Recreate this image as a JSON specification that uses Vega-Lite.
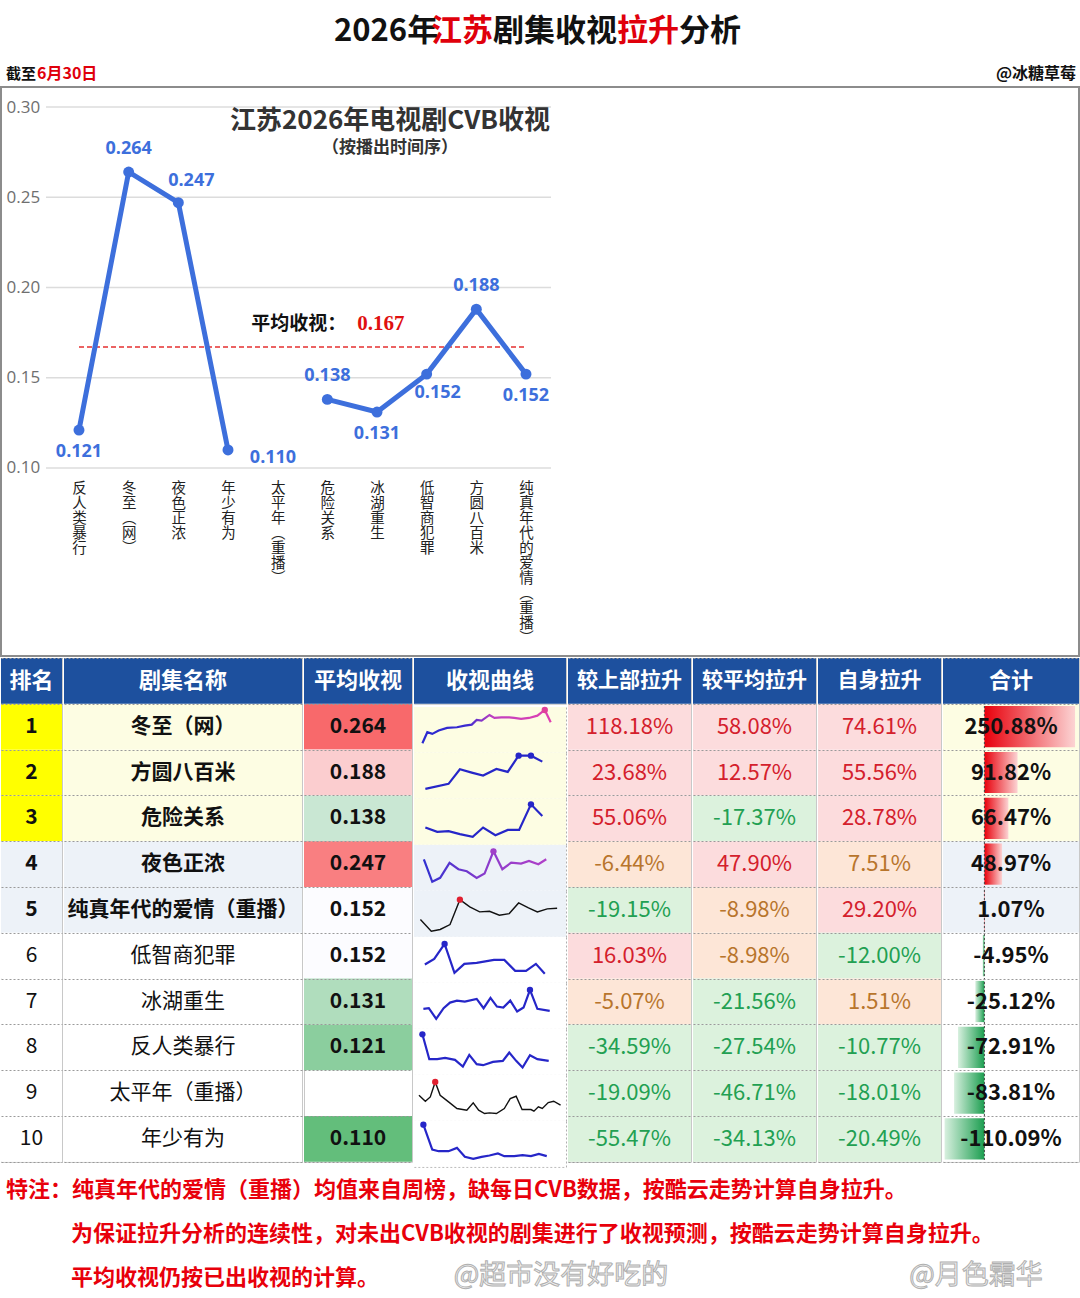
{
  "$schema": "https://vega.github.io/schema/vega-lite/v6.json",
  "padding": 0,
  "background": "white",
  "spacing": 0,
  "config": {
    "font": "Noto Sans CJK SC",
    "view": {"stroke": "#c8c8c8", "strokeWidth": 1},
    "locale": {"number": {"decimal": ".", "thousands": ",", "grouping": [3], "currency": ["", ""], "minus": "-"}},
    "concat": {"spacing": 0},
    "facet": {"spacing": 0}
  },
  "resolve": {"scale": {"x": "independent", "y": "independent", "fill": "independent", "color": "independent"}},
  "datasets": {
    "table": [
      {"rank": 1, "name": "冬至（网）", "air": 2, "avg": 0.264, "up": 1.1818, "vsavg": 0.5808, "self": 0.7461, "total": 2.5088},
      {"rank": 2, "name": "方圆八百米", "air": 9, "avg": 0.188, "up": 0.2368, "vsavg": 0.1257, "self": 0.5556, "total": 0.9182},
      {"rank": 3, "name": "危险关系", "air": 6, "avg": 0.138, "up": 0.5506, "vsavg": -0.1737, "self": 0.2878, "total": 0.6647},
      {"rank": 4, "name": "夜色正浓", "air": 3, "avg": 0.247, "up": -0.0644, "vsavg": 0.4790, "self": 0.0751, "total": 0.4897},
      {"rank": 5, "name": "纯真年代的爱情（重播）", "air": 10, "avg": 0.152, "up": -0.1915, "vsavg": -0.0898, "self": 0.2920, "total": 0.0107},
      {"rank": 6, "name": "低智商犯罪", "air": 8, "avg": 0.152, "up": 0.1603, "vsavg": -0.0898, "self": -0.1200, "total": -0.0495},
      {"rank": 7, "name": "冰湖重生", "air": 7, "avg": 0.131, "up": -0.0507, "vsavg": -0.2156, "self": 0.0151, "total": -0.2512},
      {"rank": 8, "name": "反人类暴行", "air": 1, "avg": 0.121, "up": -0.3459, "vsavg": -0.2754, "self": -0.1077, "total": -0.7291},
      {"rank": 9, "name": "太平年（重播）", "air": 5, "avg": null, "up": -0.1909, "vsavg": -0.4671, "self": -0.1801, "total": -0.8381},
      {"rank": 10, "name": "年少有为", "air": 4, "avg": 0.110, "up": -0.5547, "vsavg": -0.3413, "self": -0.2049, "total": -1.1009}
    ],
    "notes": [
      {"line": 1, "text": "特注：纯真年代的爱情（重播）均值来自周榜，缺每日CVB数据，按酷云走势计算自身拉升。"},
      {"line": 2, "text": "为保证拉升分析的连续性，对未出CVB收视的剧集进行了收视预测，按酷云走势计算自身拉升。"},
      {"line": 3, "text": "平均收视仍按已出收视的计算。"}
    ],
    "spark": [
      {"rank":1,"t":1.7,"v":32},{"rank":1,"t":2.7,"v":65},{"rank":1,"t":3.7,"v":60},{"rank":1,"t":5.0,"v":70},{"rank":1,"t":6.7,"v":78},{"rank":1,"t":8.7,"v":80},{"rank":1,"t":10.3,"v":85},{"rank":1,"t":11.7,"v":88},{"rank":1,"t":12.7,"v":102},{"rank":1,"t":13.7,"v":100},{"rank":1,"t":15.3,"v":117},{"rank":1,"t":16.3,"v":108},{"rank":1,"t":17.7,"v":110},{"rank":1,"t":19.3,"v":110},{"rank":1,"t":20.3,"v":108},{"rank":1,"t":21.7,"v":105},{"rank":1,"t":23.3,"v":108},{"rank":1,"t":25.0,"v":115},{"rank":1,"t":26.5,"v":132},{"rank":1,"t":27.7,"v":95},
      {"rank":2,"t":2.3,"v":33},{"rank":2,"t":7.0,"v":48},{"rank":2,"t":9.3,"v":92},{"rank":2,"t":11.7,"v":82},{"rank":2,"t":14.0,"v":73},{"rank":2,"t":16.7,"v":93},{"rank":2,"t":19.0,"v":84},{"rank":2,"t":21.2,"v":133},{"rank":2,"t":23.7,"v":133},{"rank":2,"t":26.0,"v":115},
      {"rank":3,"t":2.3,"v":55},{"rank":3,"t":4.7,"v":42},{"rank":3,"t":7.0,"v":44},{"rank":3,"t":9.3,"v":35},{"rank":3,"t":11.9,"v":27},{"rank":3,"t":14.0,"v":55},{"rank":3,"t":16.5,"v":32},{"rank":3,"t":19.0,"v":48},{"rank":3,"t":21.3,"v":48},{"rank":3,"t":23.7,"v":125},{"rank":3,"t":26.0,"v":90},
      {"rank":4,"t":2.0,"v":98},{"rank":4,"t":3.7,"v":30},{"rank":4,"t":5.3,"v":42},{"rank":4,"t":7.2,"v":87},{"rank":4,"t":9.0,"v":68},{"rank":4,"t":10.7,"v":62},{"rank":4,"t":12.7,"v":42},{"rank":4,"t":14.3,"v":55},{"rank":4,"t":16.1,"v":122},{"rank":4,"t":17.9,"v":68},{"rank":4,"t":19.7,"v":88},{"rank":4,"t":21.7,"v":85},{"rank":4,"t":23.3,"v":93},{"rank":4,"t":25.2,"v":83},{"rank":4,"t":26.8,"v":98},
      {"rank":5,"t":1.3,"v":55},{"rank":5,"t":3.5,"v":20},{"rank":5,"t":5.3,"v":25},{"rank":5,"t":7.3,"v":40},{"rank":5,"t":9.3,"v":115},{"rank":5,"t":11.3,"v":93},{"rank":5,"t":13.3,"v":78},{"rank":5,"t":15.3,"v":80},{"rank":5,"t":17.3,"v":68},{"rank":5,"t":19.3,"v":73},{"rank":5,"t":21.2,"v":105},{"rank":5,"t":23.2,"v":90},{"rank":5,"t":25.0,"v":78},{"rank":5,"t":27.0,"v":87},{"rank":5,"t":29.0,"v":89},
      {"rank":6,"t":2.2,"v":58},{"rank":6,"t":4.1,"v":75},{"rank":6,"t":6.2,"v":120},{"rank":6,"t":8.2,"v":33},{"rank":6,"t":10.2,"v":60},{"rank":6,"t":12.7,"v":63},{"rank":6,"t":16.2,"v":72},{"rank":6,"t":18.3,"v":72},{"rank":6,"t":20.5,"v":39},{"rank":6,"t":22.7,"v":39},{"rank":6,"t":24.7,"v":60},{"rank":6,"t":26.5,"v":30},
      {"rank":7,"t":1.9,"v":63},{"rank":7,"t":3.0,"v":65},{"rank":7,"t":4.5,"v":33},{"rank":7,"t":6.0,"v":65},{"rank":7,"t":7.3,"v":82},{"rank":7,"t":8.7,"v":88},{"rank":7,"t":10.3,"v":85},{"rank":7,"t":12.7,"v":93},{"rank":7,"t":14.1,"v":65},{"rank":7,"t":15.5,"v":96},{"rank":7,"t":16.8,"v":70},{"rank":7,"t":18.1,"v":67},{"rank":7,"t":19.5,"v":88},{"rank":7,"t":20.9,"v":55},{"rank":7,"t":22.2,"v":67},{"rank":7,"t":23.5,"v":120},{"rank":7,"t":25.0,"v":63},{"rank":7,"t":27.5,"v":57},
      {"rank":8,"t":1.7,"v":125},{"rank":8,"t":3.1,"v":50},{"rank":8,"t":4.7,"v":50},{"rank":8,"t":6.3,"v":54},{"rank":8,"t":8.3,"v":48},{"rank":8,"t":9.9,"v":28},{"rank":8,"t":11.2,"v":63},{"rank":8,"t":12.7,"v":35},{"rank":8,"t":14.0,"v":32},{"rank":8,"t":16.0,"v":42},{"rank":8,"t":18.0,"v":45},{"rank":8,"t":19.3,"v":70},{"rank":8,"t":20.7,"v":45},{"rank":8,"t":22.0,"v":25},{"rank":8,"t":23.5,"v":62},{"rank":8,"t":25.0,"v":50},{"rank":8,"t":27.3,"v":45},
      {"rank":9,"t":1.0,"v":80},{"rank":9,"t":2.3,"v":62},{"rank":9,"t":3.3,"v":75},{"rank":9,"t":4.3,"v":120},{"rank":9,"t":5.3,"v":80},{"rank":9,"t":7.0,"v":60},{"rank":9,"t":8.7,"v":40},{"rank":9,"t":10.7,"v":35},{"rank":9,"t":12.0,"v":57},{"rank":9,"t":13.1,"v":35},{"rank":9,"t":14.3,"v":25},{"rank":9,"t":15.3,"v":27},{"rank":9,"t":16.7,"v":25},{"rank":9,"t":18.3,"v":40},{"rank":9,"t":19.5,"v":70},{"rank":9,"t":20.7,"v":77},{"rank":9,"t":21.9,"v":37},{"rank":9,"t":23.7,"v":37},{"rank":9,"t":24.3,"v":32},{"rank":9,"t":25.2,"v":45},{"rank":9,"t":26.0,"v":40},{"rank":9,"t":27.2,"v":58},{"rank":9,"t":28.3,"v":62},{"rank":9,"t":29.7,"v":50},
      {"rank":10,"t":1.9,"v":130},{"rank":10,"t":3.7,"v":55},{"rank":10,"t":5.0,"v":50},{"rank":10,"t":7.0,"v":50},{"rank":10,"t":8.7,"v":60},{"rank":10,"t":10.3,"v":33},{"rank":10,"t":12.0,"v":27},{"rank":10,"t":13.7,"v":33},{"rank":10,"t":15.3,"v":37},{"rank":10,"t":17.0,"v":43},{"rank":10,"t":18.3,"v":35},{"rank":10,"t":20.3,"v":35},{"rank":10,"t":22.0,"v":38},{"rank":10,"t":23.7,"v":35},{"rank":10,"t":25.3,"v":42},{"rank":10,"t":26.9,"v":35}
    ]
  },
  "vconcat": [
    {
      "width": 1080, "height": 86, "view": {"stroke": null},
      "data": {"values": [{}]},
      "layer": [
        {"mark": {"type": "text", "text": "2026年", "x": 333, "y": 32, "align": "left", "baseline": "middle", "fontSize": 31, "fontWeight": "bold", "color": "#111"}, "encoding": {}},
        {"mark": {"type": "text", "text": "江苏", "x": 430, "y": 32, "align": "left", "baseline": "middle", "fontSize": 31, "fontWeight": "bold", "color": "#e0000b"}, "encoding": {}},
        {"mark": {"type": "text", "text": "剧集收视", "x": 492, "y": 32, "align": "left", "baseline": "middle", "fontSize": 31, "fontWeight": "bold", "color": "#111"}, "encoding": {}},
        {"mark": {"type": "text", "text": "拉升", "x": 616, "y": 32, "align": "left", "baseline": "middle", "fontSize": 31, "fontWeight": "bold", "color": "#e0000b"}, "encoding": {}},
        {"mark": {"type": "text", "text": "分析", "x": 678, "y": 32, "align": "left", "baseline": "middle", "fontSize": 31, "fontWeight": "bold", "color": "#111"}, "encoding": {}},
        {"mark": {"type": "text", "text": "截至", "x": 5, "y": 74, "align": "left", "baseline": "middle", "fontSize": 15, "fontWeight": "bold", "color": "#111"}, "encoding": {}},
        {"mark": {"type": "text", "text": "6月30日", "x": 36, "y": 74, "align": "left", "baseline": "middle", "fontSize": 16, "fontWeight": "bold", "color": "#e0000b"}, "encoding": {}},
        {"mark": {"type": "text", "text": "@冰糖草莓", "x": 1075, "y": 74, "align": "right", "baseline": "middle", "fontSize": 16, "fontWeight": "bold", "color": "#111"}, "encoding": {}}
      ]
    },
    {
      "width": 1078, "height": 569,
      "view": {"stroke": "#8c8c8c", "strokeWidth": 2},
      "data": {"name": "table"},
      "layer": [
        {
          "data": {"values": [{"t": 0.10}, {"t": 0.15}, {"t": 0.20}, {"t": 0.25}, {"t": 0.30}]},
          "mark": {"type": "rule", "color": "#dcdcdc", "strokeWidth": 1.5, "xOffset": -33, "x2Offset": 25},
          "encoding": {
            "x": {"datum": "反人类暴行"},
            "x2": {"datum": "纯真年代的爱情（重播）"},
            "y": {"field": "t", "type": "quantitative", "scale": {"domain": [-0.0042, 0.3111], "nice": false, "zero": false},
              "axis": {"values": [0.1, 0.15, 0.2, 0.25, 0.3], "format": ".2f", "labelAlign": "left", "labelPadding": -5, "ticks": false, "domain": false, "grid": false, "title": null, "labelFontSize": 17, "labelColor": "#6f6f6f", "labelFont": "Open Sans", "labelBaseline": "middle"}}
          }
        },
        {
          "mark": {"type": "rule", "color": "#e53030", "strokeDash": [5, 3], "strokeWidth": 1.6},
          "encoding": {
            "x": {"datum": "反人类暴行"},
            "x2": {"datum": "纯真年代的爱情（重播）"},
            "y": {"aggregate": "mean", "field": "avg", "type": "quantitative"}
          }
        },
        {
          "mark": {"type": "line", "color": "#3d6fdc", "strokeWidth": 5, "invalid": "break-paths-show-domains"},
          "encoding": {
            "x": {"field": "name", "type": "nominal",
              "scale": {"type": "point", "domain": ["反人类暴行", "冬至（网）", "夜色正浓", "年少有为", "太平年（重播）", "危险关系", "冰湖重生", "低智商犯罪", "方圆八百米", "纯真年代的爱情（重播）"], "range": [78, 525], "padding": 0, "round": false},
              "axis": {"orient": "bottom", "offset": -177, "title": null, "ticks": false, "domain": false, "grid": false, "labelAngle": 0, "labelAlign": "center", "labelBaseline": "top", "labelPadding": 2, "labelFontSize": 14.5, "labelLineHeight": 15, "labelColor": "#222222", "labelOverlap": false, "labelLimit": 0, "labelExpr": "split(replace(replace(datum.label, '（', '︵'), '）', '︶'), '')"}},
            "y": {"field": "avg", "type": "quantitative"},
            "order": {"field": "air", "type": "quantitative"}
          }
        },
        {
          "mark": {"type": "point", "filled": true, "size": 120, "color": "#3d6fdc", "opacity": 1},
          "encoding": {"x": {"field": "name", "type": "nominal"}, "y": {"field": "avg", "type": "quantitative"}}
        },
        {
          "transform": [{"filter": {"field": "name", "oneOf": ["冬至（网）", "危险关系", "方圆八百米"]}}],
          "mark": {"type": "text", "dy": -23, "fontSize": 18, "fontWeight": "bold", "color": "#3d6fdc", "font": "Open Sans"},
          "encoding": {"x": {"field": "name", "type": "nominal"}, "y": {"field": "avg", "type": "quantitative"}, "text": {"field": "avg", "type": "quantitative", "format": ".3f"}}
        },
        {
          "transform": [{"filter": {"field": "name", "oneOf": ["反人类暴行", "冰湖重生", "纯真年代的爱情（重播）"]}}],
          "mark": {"type": "text", "dy": 22, "fontSize": 18, "fontWeight": "bold", "color": "#3d6fdc", "font": "Open Sans"},
          "encoding": {"x": {"field": "name", "type": "nominal"}, "y": {"field": "avg", "type": "quantitative"}, "text": {"field": "avg", "type": "quantitative", "format": ".3f"}}
        },
        {
          "transform": [{"filter": {"field": "name", "equal": "夜色正浓"}}],
          "mark": {"type": "text", "dx": 13, "dy": -22, "fontSize": 18, "fontWeight": "bold", "color": "#3d6fdc", "font": "Open Sans"},
          "encoding": {"x": {"field": "name", "type": "nominal"}, "y": {"field": "avg", "type": "quantitative"}, "text": {"field": "avg", "type": "quantitative", "format": ".3f"}}
        },
        {
          "transform": [{"filter": {"field": "name", "equal": "低智商犯罪"}}],
          "mark": {"type": "text", "dx": 11, "dy": 19, "fontSize": 18, "fontWeight": "bold", "color": "#3d6fdc", "font": "Open Sans"},
          "encoding": {"x": {"field": "name", "type": "nominal"}, "y": {"field": "avg", "type": "quantitative"}, "text": {"field": "avg", "type": "quantitative", "format": ".3f"}}
        },
        {
          "transform": [{"filter": {"field": "name", "equal": "年少有为"}}],
          "mark": {"type": "text", "dx": 45, "dy": 8, "fontSize": 18, "fontWeight": "bold", "color": "#3d6fdc", "font": "Open Sans"},
          "encoding": {"x": {"field": "name", "type": "nominal"}, "y": {"field": "avg", "type": "quantitative"}, "text": {"field": "avg", "type": "quantitative", "format": ".3f"}}
        },
        {
          "data": {"values": [{}]},
          "mark": {"type": "text", "text": "江苏2026年电视剧CVB收视", "dx": 13, "fontSize": 26, "fontWeight": "bold", "color": "#333333", "baseline": "middle"},
          "encoding": {"x": {"datum": "冰湖重生"}, "y": {"datum": 0.292}}
        },
        {
          "data": {"values": [{}]},
          "mark": {"type": "text", "text": "（按播出时间序）", "dx": 13, "fontSize": 17, "fontWeight": "bold", "color": "#333333", "baseline": "middle"},
          "encoding": {"x": {"datum": "冰湖重生"}, "y": {"datum": 0.2773}}
        },
        {
          "data": {"values": [{}]},
          "mark": {"type": "text", "text": "平均收视：", "dx": 21, "fontSize": 19, "fontWeight": "bold", "color": "#111111", "baseline": "middle"},
          "encoding": {"x": {"datum": "太平年（重播）"}, "y": {"datum": 0.18}}
        },
        {
          "mark": {"type": "text", "dx": 30, "align": "left", "fontSize": 21, "fontWeight": "bold", "color": "#e01010", "baseline": "middle", "font": "Liberation Serif"},
          "encoding": {"x": {"datum": "危险关系"}, "y": {"datum": 0.18}, "text": {"aggregate": "mean", "field": "avg", "type": "quantitative", "format": ".3f"}}
        }
      ]
    },
    {
      "spacing": 0,
      "resolve": {"scale": {"x": "independent", "y": "independent", "fill": "independent", "color": "independent"}},
      "hconcat": [
        {
          "width": 61, "height": 503.8, "data": {"name": "table"},
          "encoding": {"y": {"field": "rank", "type": "ordinal", "scale": {"domain": [0,1,2,3,4,5,6,7,8,9,10], "paddingInner": 0, "paddingOuter": 0}, "axis": {"grid": true, "tickBand": "extent", "labels": false, "ticks": false, "domain": false, "title": null, "gridColor": "#9a9a9a", "gridDash": [2, 2], "gridWidth": 1, "zindex": 1}}},
          "layer": [
            {"mark": "rect", "encoding": {"x": {"value": 0}, "x2": {"value": "width"}, "fill": {"field": "rank", "type": "ordinal", "scale": {"domain": [1,2,3,4,5,6,7,8,9,10], "range": ["#ffff00","#ffff00","#ffff00","#edf2f8","#edf2f8","#ffffff","#ffffff","#ffffff","#ffffff","#ffffff"]}, "legend": null}}},
            {"data": {"values": [{}]}, "mark": {"type": "rect", "color": "#1d509e"}, "encoding": {"y": {"datum": 0, "type": "ordinal"}, "x": {"value": 0}, "x2": {"value": "width"}}},
            {"data": {"values": [{}]}, "mark": {"type": "text", "text": "排名", "color": "white", "fontSize": 22, "fontWeight": "bold"}, "encoding": {"y": {"datum": 0, "type": "ordinal"}}},
            {"transform": [{"filter": "datum.rank <= 5"}], "mark": {"type": "text", "fontSize": 21, "fontWeight": "bold", "color": "#111111"}, "encoding": {"text": {"field": "rank", "type": "nominal"}}},
            {"transform": [{"filter": "datum.rank > 5"}], "mark": {"type": "text", "fontSize": 21, "color": "#111111"}, "encoding": {"text": {"field": "rank", "type": "nominal"}}}
          ]
        },
        {
          "width": 238, "height": 503.8, "data": {"name": "table"},
          "encoding": {"y": {"field": "rank", "type": "ordinal", "scale": {"domain": [0,1,2,3,4,5,6,7,8,9,10], "paddingInner": 0, "paddingOuter": 0}, "axis": {"grid": true, "tickBand": "extent", "labels": false, "ticks": false, "domain": false, "title": null, "gridColor": "#9a9a9a", "gridDash": [2, 2], "gridWidth": 1, "zindex": 1}}},
          "layer": [
            {"mark": "rect", "encoding": {"x": {"value": 0}, "x2": {"value": "width"}, "fill": {"field": "rank", "type": "ordinal", "scale": {"domain": [1,2,3,4,5,6,7,8,9,10], "range": ["#fdfde3","#fdfde3","#fdfde3","#edf2f8","#edf2f8","#ffffff","#ffffff","#ffffff","#ffffff","#ffffff"]}, "legend": null}}},
            {"data": {"values": [{}]}, "mark": {"type": "rect", "color": "#1d509e"}, "encoding": {"y": {"datum": 0, "type": "ordinal"}, "x": {"value": 0}, "x2": {"value": "width"}}},
            {"data": {"values": [{}]}, "mark": {"type": "text", "text": "剧集名称", "color": "white", "fontSize": 22, "fontWeight": "bold"}, "encoding": {"y": {"datum": 0, "type": "ordinal"}}},
            {"transform": [{"filter": "datum.rank <= 5"}], "mark": {"type": "text", "fontSize": 21, "fontWeight": "bold", "color": "#111111"}, "encoding": {"text": {"field": "name", "type": "nominal"}}},
            {"transform": [{"filter": "datum.rank > 5"}], "mark": {"type": "text", "fontSize": 21, "color": "#111111"}, "encoding": {"text": {"field": "name", "type": "nominal"}}}
          ]
        },
        {
          "width": 108, "height": 503.8, "data": {"name": "table"},
          "encoding": {"y": {"field": "rank", "type": "ordinal", "scale": {"domain": [0,1,2,3,4,5,6,7,8,9,10], "paddingInner": 0, "paddingOuter": 0}, "axis": {"grid": true, "tickBand": "extent", "labels": false, "ticks": false, "domain": false, "title": null, "gridColor": "#9a9a9a", "gridDash": [2, 2], "gridWidth": 1, "zindex": 1}}},
          "layer": [
            {"transform": [{"filter": "isValid(datum.avg)"}], "mark": "rect", "encoding": {"x": {"value": 0}, "x2": {"value": "width"}, "fill": {"field": "avg", "type": "quantitative", "scale": {"domainMid": 0.152, "range": ["#63BE7B", "#FCFCFF", "#F8696B"], "interpolate": "rgb", "zero": false, "nice": false}, "legend": null}}},
            {"data": {"values": [{}]}, "mark": {"type": "rect", "color": "#1d509e"}, "encoding": {"y": {"datum": 0, "type": "ordinal"}, "x": {"value": 0}, "x2": {"value": "width"}}},
            {"data": {"values": [{}]}, "mark": {"type": "text", "text": "平均收视", "color": "white", "fontSize": 22, "fontWeight": "bold"}, "encoding": {"y": {"datum": 0, "type": "ordinal"}}},
            {"transform": [{"filter": "isValid(datum.avg)"}], "mark": {"type": "text", "fontSize": 21, "fontWeight": "bold", "color": "#111111"}, "encoding": {"text": {"field": "avg", "type": "quantitative", "format": ".3f"}}}
          ]
        },
        {
          "spacing": 0,
          "resolve": {"scale": {"x": "independent", "y": "independent", "fill": "independent", "color": "independent"}},
          "vconcat": [
            {
              "width": 152, "height": 45.8, "data": {"values": [{}]},
              "layer": [
                {"mark": {"type": "rect", "color": "#1d509e"}, "encoding": {"x": {"value": 0}, "x2": {"value": "width"}, "y": {"value": 0}, "y2": {"value": "height"}}},
                {"mark": {"type": "text", "text": "收视曲线", "color": "white", "fontSize": 22, "fontWeight": "bold"}, "encoding": {}}
              ]
            },
            {
              "data": {"name": "spark"},
              "facet": {"row": {"field": "rank", "type": "ordinal", "header": null}},
              "spacing": 0,
              "bounds": "flush",
              "spec": {
                "width": 152, "height": 45.8,
                "view": {"stroke": "#b0b0b0", "strokeDash": [2, 2]},
                "layer": [
                  {
                    "transform": [{"aggregate": [{"op": "count", "as": "n"}], "groupby": ["rank"]}],
                    "mark": "rect",
                    "encoding": {"x": {"value": 0}, "x2": {"value": "width"}, "y": {"value": 0}, "y2": {"value": "height"},
                      "fill": {"field": "rank", "type": "ordinal", "scale": {"domain": [1,2,3,4,5,6,7,8,9,10], "range": ["#fdfde3","#fdfde3","#fdfde3","#edf2f8","#edf2f8","#ffffff","#ffffff","#ffffff","#ffffff","#ffffff"]}, "legend": null}}
                  },
                  {
                    "transform": [{"filter": {"field": "rank", "oneOf": [2, 3, 6, 7, 8, 10]}}],
                    "mark": {"type": "line", "color": "#2626c8", "strokeWidth": 2.2},
                    "encoding": {"x": {"field": "t", "type": "quantitative", "scale": {"domain": [0, 30.8], "nice": false, "zero": false}, "axis": null}, "y": {"field": "v", "type": "quantitative", "scale": {"domain": [3, 141], "nice": false, "zero": false}, "axis": null}}
                  },
                  {
                    "transform": [{"filter": {"field": "rank", "oneOf": [5, 9]}}],
                    "mark": {"type": "line", "color": "#111111", "strokeWidth": 1.4},
                    "encoding": {"x": {"field": "t", "type": "quantitative"}, "y": {"field": "v", "type": "quantitative"}}
                  },
                  {
                    "transform": [{"filter": "datum.rank == 1"}],
                    "mark": {"type": "line", "strokeWidth": 2.2, "stroke": {"gradient": "linear", "x1": 0, "y1": 0, "x2": 1, "y2": 0, "stops": [{"offset": 0, "color": "#2a2ad0"}, {"offset": 0.35, "color": "#3a2ad0"}, {"offset": 0.55, "color": "#c040c0"}, {"offset": 1, "color": "#e040b0"}]}},
                    "encoding": {"x": {"field": "t", "type": "quantitative"}, "y": {"field": "v", "type": "quantitative"}}
                  },
                  {
                    "transform": [{"filter": "datum.rank == 4"}],
                    "mark": {"type": "line", "strokeWidth": 2.2, "stroke": {"gradient": "linear", "x1": 0, "y1": 0, "x2": 1, "y2": 0, "stops": [{"offset": 0, "color": "#3030d0"}, {"offset": 0.5, "color": "#8a3ccc"}, {"offset": 1, "color": "#b040c8"}]}},
                    "encoding": {"x": {"field": "t", "type": "quantitative"}, "y": {"field": "v", "type": "quantitative"}}
                  },
                  {
                    "transform": [{"joinaggregate": [{"op": "max", "field": "v", "as": "vmax"}], "groupby": ["rank"]}, {"filter": "datum.v == datum.vmax"}],
                    "mark": {"type": "point", "filled": true, "size": 40, "opacity": 1},
                    "encoding": {"x": {"field": "t", "type": "quantitative"}, "y": {"field": "v", "type": "quantitative"},
                      "color": {"field": "rank", "type": "ordinal", "scale": {"domain": [1,2,3,4,5,6,7,8,9,10], "range": ["#e0409a","#2626c8","#2626c8","#a040c8","#e02030","#2626c8","#2626c8","#2626c8","#e02030","#2626c8"]}, "legend": null}}
                  }
                ]
              }
            }
          ]
        },
        {
          "width": 123, "height": 503.8, "data": {"name": "table"},
          "encoding": {"y": {"field": "rank", "type": "ordinal", "scale": {"domain": [0,1,2,3,4,5,6,7,8,9,10], "paddingInner": 0, "paddingOuter": 0}, "axis": {"grid": true, "tickBand": "extent", "labels": false, "ticks": false, "domain": false, "title": null, "gridColor": "#9a9a9a", "gridDash": [2, 2], "gridWidth": 1, "zindex": 1}}},
          "layer": [
            {"mark": "rect", "encoding": {"x": {"value": 0}, "x2": {"value": "width"}, "fill": {"field": "up", "type": "quantitative", "scale": {"type": "threshold", "domain": [-0.1, 0.1], "range": ["#dcf2dd", "#fde6d7", "#fcdcdd"]}, "legend": null}}},
            {"data": {"values": [{}]}, "mark": {"type": "rect", "color": "#1d509e"}, "encoding": {"y": {"datum": 0, "type": "ordinal"}, "x": {"value": 0}, "x2": {"value": "width"}}},
            {"data": {"values": [{}]}, "mark": {"type": "text", "text": "较上部拉升", "color": "white", "fontSize": 21, "fontWeight": "bold"}, "encoding": {"y": {"datum": 0, "type": "ordinal"}}},
            {"mark": {"type": "text", "fontSize": 22}, "encoding": {"text": {"field": "up", "type": "quantitative", "format": ".2%"}, "color": {"field": "up", "type": "quantitative", "scale": {"type": "threshold", "domain": [-0.1, 0.1], "range": ["#22a052", "#b8752c", "#d4202c"]}, "legend": null}}}
          ]
        },
        {
          "width": 123, "height": 503.8, "data": {"name": "table"},
          "encoding": {"y": {"field": "rank", "type": "ordinal", "scale": {"domain": [0,1,2,3,4,5,6,7,8,9,10], "paddingInner": 0, "paddingOuter": 0}, "axis": {"grid": true, "tickBand": "extent", "labels": false, "ticks": false, "domain": false, "title": null, "gridColor": "#9a9a9a", "gridDash": [2, 2], "gridWidth": 1, "zindex": 1}}},
          "layer": [
            {"mark": "rect", "encoding": {"x": {"value": 0}, "x2": {"value": "width"}, "fill": {"field": "vsavg", "type": "quantitative", "scale": {"type": "threshold", "domain": [-0.1, 0.1], "range": ["#dcf2dd", "#fde6d7", "#fcdcdd"]}, "legend": null}}},
            {"data": {"values": [{}]}, "mark": {"type": "rect", "color": "#1d509e"}, "encoding": {"y": {"datum": 0, "type": "ordinal"}, "x": {"value": 0}, "x2": {"value": "width"}}},
            {"data": {"values": [{}]}, "mark": {"type": "text", "text": "较平均拉升", "color": "white", "fontSize": 21, "fontWeight": "bold"}, "encoding": {"y": {"datum": 0, "type": "ordinal"}}},
            {"mark": {"type": "text", "fontSize": 22}, "encoding": {"text": {"field": "vsavg", "type": "quantitative", "format": ".2%"}, "color": {"field": "vsavg", "type": "quantitative", "scale": {"type": "threshold", "domain": [-0.1, 0.1], "range": ["#22a052", "#b8752c", "#d4202c"]}, "legend": null}}}
          ]
        },
        {
          "width": 123, "height": 503.8, "data": {"name": "table"},
          "encoding": {"y": {"field": "rank", "type": "ordinal", "scale": {"domain": [0,1,2,3,4,5,6,7,8,9,10], "paddingInner": 0, "paddingOuter": 0}, "axis": {"grid": true, "tickBand": "extent", "labels": false, "ticks": false, "domain": false, "title": null, "gridColor": "#9a9a9a", "gridDash": [2, 2], "gridWidth": 1, "zindex": 1}}},
          "layer": [
            {"mark": "rect", "encoding": {"x": {"value": 0}, "x2": {"value": "width"}, "fill": {"field": "self", "type": "quantitative", "scale": {"type": "threshold", "domain": [-0.1, 0.1], "range": ["#dcf2dd", "#fde6d7", "#fcdcdd"]}, "legend": null}}},
            {"data": {"values": [{}]}, "mark": {"type": "rect", "color": "#1d509e"}, "encoding": {"y": {"datum": 0, "type": "ordinal"}, "x": {"value": 0}, "x2": {"value": "width"}}},
            {"data": {"values": [{}]}, "mark": {"type": "text", "text": "自身拉升", "color": "white", "fontSize": 21, "fontWeight": "bold"}, "encoding": {"y": {"datum": 0, "type": "ordinal"}}},
            {"mark": {"type": "text", "fontSize": 22}, "encoding": {"text": {"field": "self", "type": "quantitative", "format": ".2%"}, "color": {"field": "self", "type": "quantitative", "scale": {"type": "threshold", "domain": [-0.1, 0.1], "range": ["#22a052", "#b8752c", "#d4202c"]}, "legend": null}}}
          ]
        },
        {
          "width": 136, "height": 503.8, "data": {"name": "table"},
          "encoding": {"y": {"field": "rank", "type": "ordinal", "scale": {"domain": [0,1,2,3,4,5,6,7,8,9,10], "paddingInner": 0, "paddingOuter": 0}, "axis": {"grid": true, "tickBand": "extent", "labels": false, "ticks": false, "domain": false, "title": null, "gridColor": "#9a9a9a", "gridDash": [2, 2], "gridWidth": 1, "zindex": 1}}},
          "layer": [
            {"mark": "rect", "encoding": {"x": {"value": 0}, "x2": {"value": "width"}, "fill": {"field": "rank", "type": "ordinal", "scale": {"domain": [1,2,3,4,5,6,7,8,9,10], "range": ["#fdfde3","#fdfde3","#fdfde3","#edf2f8","#edf2f8","#ffffff","#ffffff","#ffffff","#ffffff","#ffffff"]}, "legend": null}}},
            {"transform": [{"filter": "datum.total >= 0"}], "mark": {"type": "bar", "height": {"band": 0.9}, "fill": {"gradient": "linear", "x1": 0, "y1": 0, "x2": 1, "y2": 0, "stops": [{"offset": 0, "color": "#e8000b"}, {"offset": 1, "color": "#fcd4d4"}]}},
              "encoding": {"x": {"field": "total", "type": "quantitative", "scale": {"domain": [-1.145, 2.618], "nice": false, "zero": false}, "axis": null}, "x2": {"datum": 0}}},
            {"transform": [{"filter": "datum.total < 0"}], "mark": {"type": "bar", "height": {"band": 0.9}, "fill": {"gradient": "linear", "x1": 0, "y1": 0, "x2": 1, "y2": 0, "stops": [{"offset": 0, "color": "#d8f0df"}, {"offset": 1, "color": "#1c9e50"}]}},
              "encoding": {"x": {"field": "total", "type": "quantitative"}, "x2": {"datum": 0}}},
            {"data": {"values": [{}]}, "mark": {"type": "rule", "color": "#444444", "strokeDash": [2, 2], "strokeWidth": 1}, "encoding": {"x": {"datum": 0}, "y": {"value": 0}, "y2": {"value": "height"}}},
            {"data": {"values": [{}]}, "mark": {"type": "rect", "color": "#1d509e"}, "encoding": {"y": {"datum": 0, "type": "ordinal"}, "x": {"value": 0}, "x2": {"value": "width"}}},
            {"data": {"values": [{}]}, "mark": {"type": "text", "text": "合计", "color": "white", "fontSize": 22, "fontWeight": "bold"}, "encoding": {"y": {"datum": 0, "type": "ordinal"}}},
            {"mark": {"type": "text", "fontSize": 22, "fontWeight": "bold", "color": "#111111"}, "encoding": {"text": {"field": "total", "type": "quantitative", "format": ".2%"}}}
          ]
        }
      ]
    },
    {
      "width": 1080, "height": 132, "view": {"stroke": null},
      "data": {"name": "notes"},
      "layer": [
        {"transform": [{"filter": "datum.line == 1"}], "mark": {"type": "text", "align": "left", "x": 5, "fontSize": 22, "fontWeight": "bold", "color": "#e8000b"},
          "encoding": {"y": {"field": "line", "type": "ordinal", "axis": null, "scale": {"domain": [1, 2, 3], "paddingInner": 0, "paddingOuter": 0}}, "text": {"field": "text", "type": "nominal"}}},
        {"transform": [{"filter": "datum.line > 1"}], "mark": {"type": "text", "align": "left", "x": 70, "fontSize": 22, "fontWeight": "bold", "color": "#e8000b"},
          "encoding": {"y": {"field": "line", "type": "ordinal"}, "text": {"field": "text", "type": "nominal"}}},
        {"data": {"values": [{}]}, "mark": {"type": "text", "text": "@超市没有好吃的", "x": 560, "y": 108, "fontSize": 27, "color": "#f2f2f2", "stroke": "#b0b0b0", "strokeWidth": 1}, "encoding": {}},
        {"data": {"values": [{}]}, "mark": {"type": "text", "text": "@月色霜华", "x": 975, "y": 108, "fontSize": 27, "color": "#f2f2f2", "stroke": "#b0b0b0", "strokeWidth": 1}, "encoding": {}}
      ]
    }
  ]
}
